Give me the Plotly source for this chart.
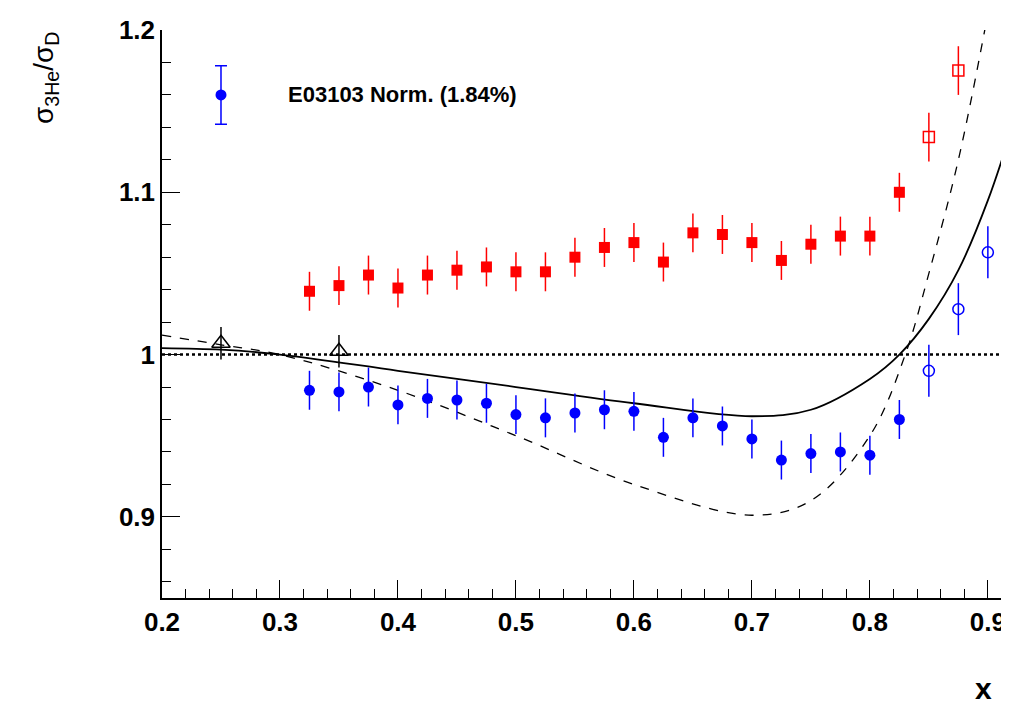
import plotly.graph_objects as go

x_pts = [0.325, 0.35, 0.375, 0.4, 0.425, 0.45, 0.475, 0.5, 0.525, 0.55, 0.575, 0.6,
         0.625, 0.65, 0.675, 0.7, 0.725, 0.75, 0.775, 0.8, 0.825]
red_y = [1.039, 1.0425, 1.049, 1.041, 1.049, 1.052, 1.054, 1.051, 1.051, 1.060, 1.066, 1.069,
         1.057, 1.075, 1.074, 1.069, 1.058, 1.068, 1.073, 1.073, 1.100]
blue_y = [0.978, 0.977, 0.980, 0.969, 0.973, 0.972, 0.970, 0.963, 0.961, 0.964, 0.966, 0.965,
          0.949, 0.961, 0.956, 0.948, 0.935, 0.939, 0.940, 0.938, 0.960]
red_open_x = [0.85, 0.875, 0.9]
red_open_y = [1.134, 1.175, 1.215]
blue_open_x = [0.85, 0.875, 0.9, 0.925]
blue_open_y = [0.990, 1.028, 1.063, 1.09]
tri_x = [0.25, 0.35]
tri_y = [1.007, 1.002]

solid_x = [0.2, 0.25, 0.3, 0.4, 0.5, 0.6, 0.7, 0.75, 0.8, 0.825, 0.85, 0.875, 0.9, 0.925]
solid_y = [1.004, 1.003, 1.0, 0.99, 0.98, 0.97, 0.962, 0.966, 0.985, 1.0, 1.022, 1.052, 1.095, 1.15]
dash_x = [0.2, 0.25, 0.3, 0.4, 0.5, 0.6, 0.7, 0.75, 0.8, 0.83, 0.85, 0.875, 0.9]
dash_y = [1.012, 1.006, 1.0, 0.978, 0.95, 0.92, 0.901, 0.91, 0.95, 1.0, 1.05, 1.12, 1.21]

err = 0.012
bold = dict(family="Liberation Sans", size=26, color="black")

fig = go.Figure()
fig.add_trace(go.Scatter(x=[0.2, 0.925], y=[1.0, 1.0], mode="lines",
                         line=dict(color="black", width=2.5, dash="dot")))
fig.add_trace(go.Scatter(x=solid_x, y=solid_y, mode="lines", line_shape="spline",
                         line=dict(color="black", width=1.8)))
fig.add_trace(go.Scatter(x=dash_x, y=dash_y, mode="lines", line_shape="spline",
                         line=dict(color="black", width=1.3, dash="dash")))
fig.add_trace(go.Scatter(x=x_pts, y=red_y, mode="markers",
                         marker=dict(symbol="square", size=11, color="red"),
                         error_y=dict(array=[err] * len(x_pts), color="red", width=0, thickness=1.5)))
fig.add_trace(go.Scatter(x=red_open_x, y=red_open_y, mode="markers",
                         marker=dict(symbol="square-open", size=11, color="red", line_width=1.5),
                         error_y=dict(array=[0.015] * 3, color="red", width=0, thickness=1.5)))
fig.add_trace(go.Scatter(x=x_pts, y=blue_y, mode="markers",
                         marker=dict(symbol="circle", size=11, color="blue"),
                         error_y=dict(array=[err] * len(x_pts), color="blue", width=0, thickness=1.5)))
fig.add_trace(go.Scatter(x=blue_open_x, y=blue_open_y, mode="markers",
                         marker=dict(symbol="circle-open", size=11, color="blue", line_width=1.5),
                         error_y=dict(array=[0.016] * 4, color="blue", width=0, thickness=1.5)))
fig.add_trace(go.Scatter(x=tri_x, y=tri_y, mode="markers",
                         marker=dict(symbol="triangle-up-open", size=16, color="black", line_width=1.5),
                         error_y=dict(array=[0.01] * 2, color="black", width=0, thickness=1.5)))
# legend marker
fig.add_trace(go.Scatter(x=[0.25], y=[1.16], mode="markers",
                         marker=dict(symbol="circle", size=11, color="blue"),
                         error_y=dict(array=[0.018], color="blue", width=6, thickness=1.5)))

fig.add_annotation(x=0.305, y=1.16, text="<b>E03103 Norm. (1.84%)</b>", showarrow=False,
                   xanchor="left", font=dict(family="Liberation Sans", size=22, color="black"))
fig.add_annotation(xref="paper", yref="paper", x=0.975, y=-0.16, text="<b>x</b>", showarrow=False,
                   xanchor="right", yanchor="middle", font=dict(family="Liberation Sans", size=30, color="black"))
fig.add_annotation(xref="paper", yref="paper", x=-0.16, y=1.0, yanchor="top",
                   text="σ<sub>3He</sub>/σ<sub>D</sub>", textangle=-90, showarrow=False,
                   font=dict(family="Liberation Sans", size=28, color="black"))

fig.update_layout(width=1009, height=724, plot_bgcolor="white", paper_bgcolor="white",
                  showlegend=False, margin=dict(l=154, r=2, t=22, b=134))
fig.update_xaxes(range=[0.2, 0.923], tickvals=[0.2, 0.3, 0.4, 0.5, 0.6, 0.7, 0.8, 0.9],
                 ticktext=["<b>0.2</b>", "<b>0.3</b>", "<b>0.4</b>", "<b>0.5</b>", "<b>0.6</b>",
                           "<b>0.7</b>", "<b>0.8</b>", "<b>0.9</b>"],
                 ticks="inside", ticklen=18, tickcolor="black", showline=True, linecolor="black",
                 linewidth=1.5, showgrid=False, zeroline=False, tickfont=bold,
                 minor=dict(dtick=0.02, ticks="inside", ticklen=9, tickcolor="black"))
fig.update_yaxes(range=[0.85, 1.2], tickvals=[0.9, 1.0, 1.1, 1.2],
                 ticktext=["<b>0.9</b>", "<b>1</b>", "<b>1.1</b>", "<b>1.2</b>"],
                 ticks="inside", ticklen=18, tickcolor="black", showline=True, linecolor="black",
                 linewidth=1.5, showgrid=False, zeroline=False, tickfont=bold,
                 minor=dict(dtick=0.02, ticks="inside", ticklen=9, tickcolor="black"))
fig.write_html("out.html")
